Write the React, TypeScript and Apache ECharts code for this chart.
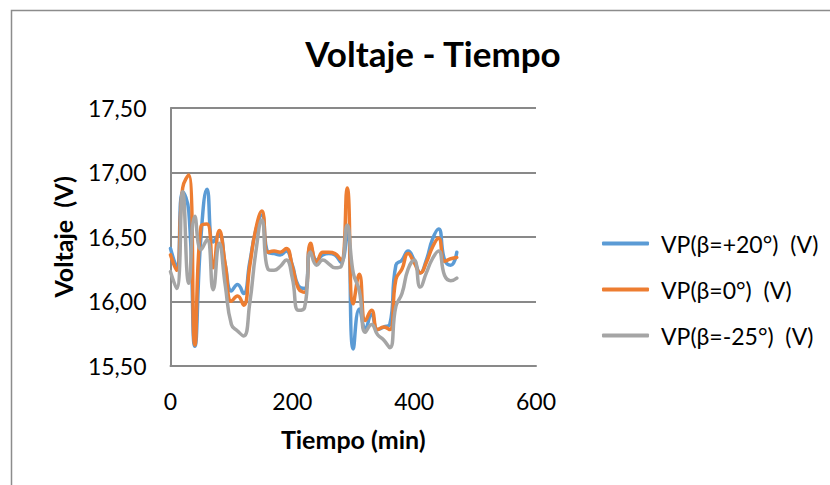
import React, { useEffect, useRef } from "react";
import * as echarts from "echarts";

const times = [0, 10, 20, 30, 40, 50, 60, 70, 80, 90, 100, 110, 120, 130, 140, 150, 160, 170, 180, 190, 200, 210, 220, 230, 240, 250, 260, 270, 280, 290, 300, 310, 320, 330, 340, 350, 360, 370, 380, 390, 400, 410, 420, 430, 440, 450, 460, 470];

const vpPlus20 = [
  16.41, 16.27, 16.85, 16.70, 15.65, 16.50, 16.87, 16.46, 16.52, 16.28,
  16.08, 16.13, 16.06, 16.30, 16.55, 16.67, 16.38, 16.37, 16.36, 16.39,
  16.28, 16.12, 16.10, 16.43, 16.32, 16.36, 16.37, 16.36, 16.30, 16.55,
  15.63, 15.94, 15.79, 15.90, 15.78, 15.80, 15.82, 16.28, 16.32, 16.39,
  16.32, 16.22, 16.32, 16.48, 16.56, 16.32, 16.28, 16.38,
];

const vpZero = [
  16.36, 16.24, 16.88, 16.98, 15.66, 16.58, 16.60, 16.26, 16.55, 16.28,
  16.00, 16.04, 15.97, 16.27, 16.56, 16.70, 16.38, 16.39, 16.38, 16.41,
  16.27, 16.10, 16.07, 16.45, 16.30, 16.38, 16.38, 16.37, 16.32, 16.88,
  15.98, 16.21, 15.85, 15.93, 15.78, 15.80, 15.78, 16.17, 16.25, 16.37,
  16.30, 16.22, 16.30, 16.42, 16.49, 16.31, 16.33, 16.34,
];

const vpMinus25 = [
  16.23, 16.10, 16.85, 16.14, 16.66, 16.40, 16.48, 16.09, 16.45, 16.12,
  15.82, 15.77, 15.73, 15.98, 16.38, 16.63, 16.25, 16.24, 16.27, 16.32,
  16.18, 15.93, 15.95, 16.38, 16.28, 16.32, 16.29, 16.26, 16.27, 16.59,
  16.22, 16.08, 15.76, 15.82, 15.74, 15.70, 15.64, 15.96, 16.06, 16.25,
  16.32, 16.11, 16.22, 16.33, 16.39, 16.20, 16.16, 16.18,
];

const seriesNames = ["VP(β=+20°)  (V)", "VP(β=0°)  (V)", "VP(β=-25°)  (V)"];
const seriesValues = [vpPlus20, vpZero, vpMinus25];
const seriesColors = ["#5B9BD5", "#ED7D31", "#A5A5A5"];

const FONT = "Lato";
const GRID = "#898989";

export default function App() {
  const ref = useRef<HTMLDivElement>(null);

  useEffect(() => {
    if (!ref.current) return;
    const chart = echarts.init(ref.current, null, { renderer: "svg" });
    chart.setOption({
      animation: false,
      backgroundColor: "#ffffff",
      title: {
        text: "Voltaje - Tiempo",
        left: 428,
        top: 30,
        textAlign: "center",
        textStyle: { fontFamily: FONT, fontSize: 35, fontWeight: "bold", color: "#000" },
      },
      graphic: [
        {
          type: "rect",
          shape: { x: 11.5, y: 10.5, width: 840, height: 500 },
          style: { fill: "none", stroke: "#8c8c8c", lineWidth: 1.5 },
          silent: true,
        },
      ],
      legend: {
        orient: "vertical",
        left: 597,
        top: 227,
        itemWidth: 47,
        itemHeight: 4,
        itemGap: 23,
        icon: "roundRect",
        data: seriesNames,
        textStyle: {
          fontFamily: FONT,
          fontSize: 23,
          color: "#000",
          lineHeight: 23,
          padding: [0, 0, 0, 7],
        },
      },
      grid: { left: 170.5, right: 294, top: 108, bottom: 119.3, containLabel: false },
      xAxis: {
        type: "value",
        min: 0,
        max: 600,
        interval: 200,
        name: "Tiempo (min)",
        nameLocation: "middle",
        nameGap: 61,
        nameTextStyle: { fontFamily: FONT, fontSize: 25, fontWeight: "bold", color: "#000" },
        axisLine: { show: true, lineStyle: { color: GRID, width: 2 } },
        axisTick: { show: false },
        splitLine: { show: false },
        axisLabel: { fontFamily: FONT, fontSize: 23, color: "#000", margin: 24 },
      },
      yAxis: {
        type: "value",
        min: 15.5,
        max: 17.5,
        interval: 0.5,
        name: "Voltaje  (V)",
        nameLocation: "middle",
        nameGap: 95,
        nameRotate: 90,
        nameTextStyle: { fontFamily: FONT, fontSize: 25, fontWeight: "bold", color: "#000" },
        axisLine: { show: true, lineStyle: { color: GRID, width: 2 } },
        axisTick: { show: false },
        splitLine: { show: true, lineStyle: { color: GRID, width: 2 } },
        axisLabel: {
          fontFamily: FONT,
          fontSize: 23,
          color: "#000",
          margin: 24,
          formatter: (v: number) => v.toFixed(2).replace(".", ","),
        },
      },
      series: seriesNames.map((name, i) => ({
        name,
        type: "line",
        smooth: 0.5,
        showSymbol: false,
        symbol: "none",
        data: times.map((t, j) => [t, seriesValues[i][j]]),
        lineStyle: { color: seriesColors[i], width: 3.5, cap: "round", join: "round" },
        itemStyle: { color: seriesColors[i] },
      })),
    });
    return () => chart.dispose();
  }, []);

  return (
    <div
      ref={ref}
      style={{ position: "fixed", left: 0, top: 0, width: 830, height: 485 }}
    />
  );
}
